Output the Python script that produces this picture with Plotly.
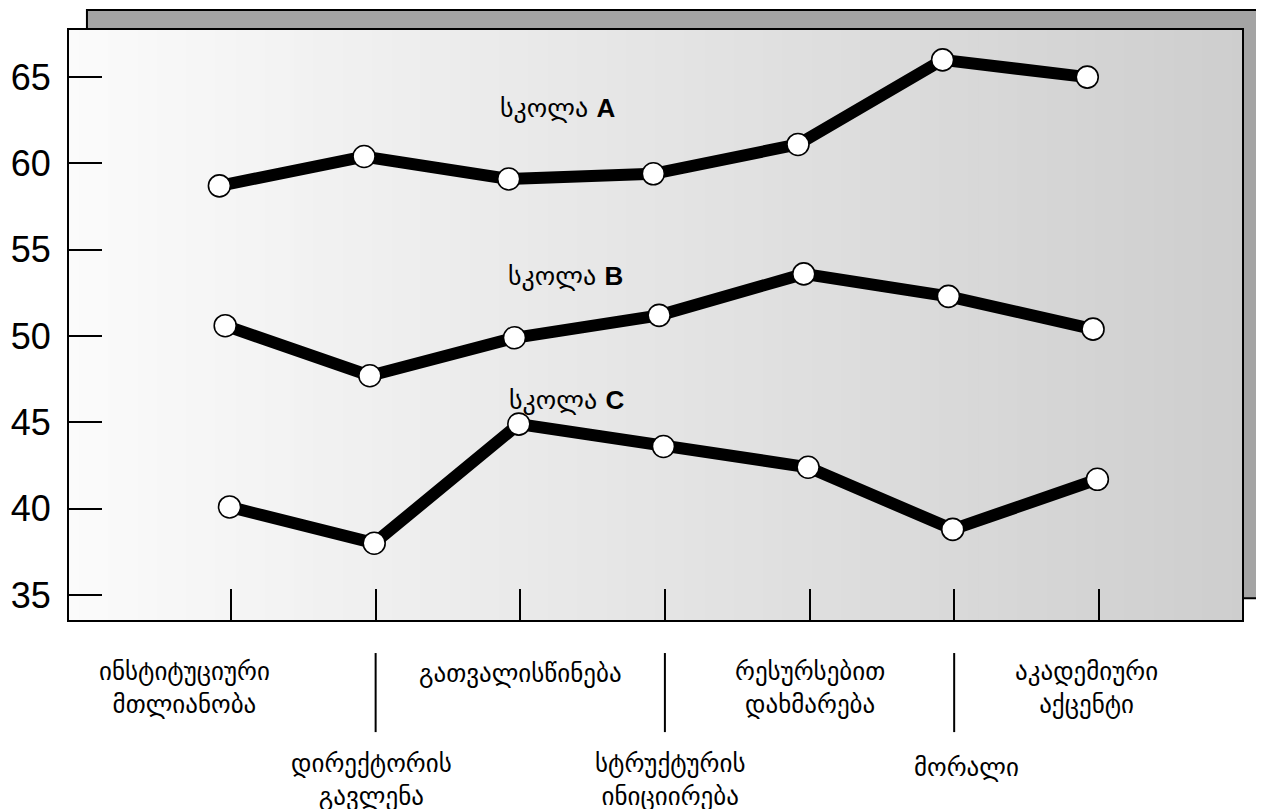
import plotly.graph_objects as go

# ---------------- data ----------------
categories = [
    ["ინსტიტუციური", "მთლიანობა"],
    ["დირექტორის", "გავლენა"],
    ["გათვალისწინება"],
    ["სტრუქტურის", "ინიციირება"],
    ["რესურსებით", "დახმარება"],
    ["მორალი"],
    ["აკადემიური", "აქცენტი"],
]
school_a = [58.7, 60.4, 59.1, 59.4, 61.1, 66.0, 65.0]
school_b = [50.6, 47.7, 49.9, 51.2, 53.6, 52.3, 50.4]
school_c = [40.1, 38.0, 44.9, 43.6, 42.4, 38.8, 41.7]
series_names = ["სკოლა A", "სკოლა B", "სკოლა C"]
y_ticks = [35, 40, 45, 50, 55, 60, 65]

# ---------------- style ----------------
GEO_FONT = "DejaVu Sans"
NUM_FONT = "Liberation Sans, Arial"
series_xoffset = [-0.08, -0.04, -0.01]           # small horizontal nudges
series_label_pos = [(2.26, 63.2), (2.31, 53.5), (2.32, 46.3)]
label_xshift = [-46, -4, 0, 6, 0, 12, -12]
# (single-line y, two-line y) per row, paper coords
row_y = [(-0.0915, -0.1153), (-0.2508, -0.2712)]

idx = list(range(len(categories)))
fig = go.Figure()

for vals, off in zip([school_a, school_b, school_c], series_xoffset):
    fig.add_trace(go.Scatter(
        x=[i + off for i in idx], y=vals, mode="lines+markers",
        line=dict(color="black", width=12),
        marker=dict(symbol="circle", size=22, color="white",
                    line=dict(color="black", width=1.6)),
        showlegend=False, hoverinfo="skip",
    ))

shapes = []
# shadow box
shapes.append(dict(type="rect", xref="x domain", yref="y domain",
                   x0=0.0153, x1=1.0128, y0=0.037, y1=1.034,
                   fillcolor="#a4a4a4", line=dict(color="black", width=2),
                   layer="below"))
# gradient background of the front panel
N = 120
c0, c1 = 251, 206
for k in range(N):
    t = (k + 0.5) / N
    v = int(round(c0 + (c1 - c0) * t))
    shapes.append(dict(type="rect", xref="x domain", yref="y domain",
                       x0=k / N, x1=(k + 1) / N + 0.001, y0=0, y1=1,
                       fillcolor=f"rgb({v},{v},{v})", line=dict(width=0),
                       layer="below"))
# separator lines for lower-row labels
for i in idx:
    if i % 2 == 1:
        shapes.append(dict(type="line", xref="x", yref="y domain",
                           x0=i, x1=i, y0=-0.056, y1=-0.19,
                           line=dict(color="black", width=2)))

annotations = []
for (name, (ax, ay)) in zip(series_names, series_label_pos):
    geo, letter = name.split(" ")
    annotations.append(dict(
        x=ax, y=ay, xref="x", yref="y", showarrow=False,
        text=f"{geo} <span style='font-family:Liberation Sans, Arial'><b>{letter}</b></span>",
        font=dict(family=GEO_FONT, size=26, color="black"),
    ))
for i, (lines, xs) in enumerate(zip(categories, label_xshift)):
    ypos = row_y[i % 2][0 if len(lines) == 1 else 1]
    annotations.append(dict(
        x=i, y=ypos, xref="x", yref="paper", yanchor="middle",
        showarrow=False, text="<br>".join(lines), xshift=xs, align="center",
        font=dict(family=GEO_FONT, size=25, color="black"),
    ))

fig.update_layout(
    width=1264, height=809,
    margin=dict(l=61, r=30, t=22, b=197),
    paper_bgcolor="white",
    plot_bgcolor="rgba(0,0,0,0)",
    shapes=shapes, annotations=annotations,
    xaxis=dict(range=[-1.12, 6.99], tickvals=idx, showticklabels=False,
               ticks="inside", ticklen=31, tickwidth=2, tickcolor="black",
               showgrid=False, zeroline=False, showline=True, mirror=True,
               linecolor="black", linewidth=2, automargin=False),
    yaxis=dict(range=[33.55, 67.73], tickvals=y_ticks,
               ticks="inside", ticklen=33, tickwidth=2, tickcolor="black",
               tickfont=dict(family=NUM_FONT, size=36, color="black"),
               ticklabelstandoff=9, automargin=False,
               showgrid=False, zeroline=False, showline=True, mirror=True,
               linecolor="black", linewidth=2),
)

fig.write_html("out.html")
